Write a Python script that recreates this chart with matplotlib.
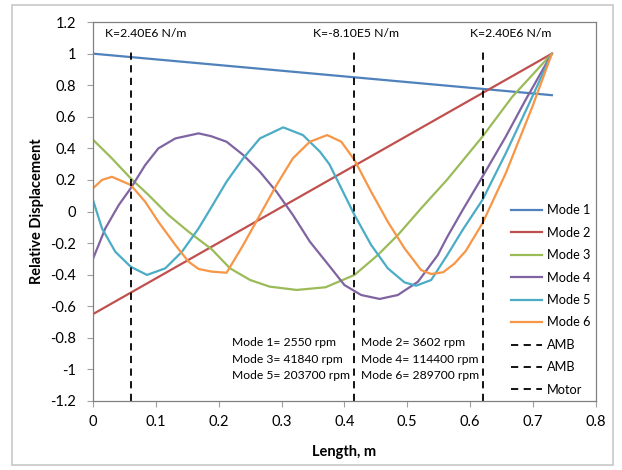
import numpy as np
import matplotlib
matplotlib.use('Agg')
import matplotlib.pyplot as plt
from matplotlib.patches import Rectangle

plt.rcParams['font.family'] = ['Lato', 'DejaVu Sans']

# mode shapes (length in m, relative displacement)
x1 = [0.0, 0.73]
y1 = [1.0, 0.737]

x2 = [0.0, 0.73]
y2 = [-0.65, 1.0]

x3 = [0.0, 0.03, 0.06, 0.0885, 0.12, 0.152, 0.189, 0.218, 0.25, 0.281, 0.324,
      0.37, 0.416, 0.453, 0.485, 0.522, 0.563, 0.6195, 0.667, 0.73]
y3 = [0.455, 0.337, 0.21, 0.104, -0.022, -0.128, -0.24, -0.36, -0.434, -0.476,
      -0.497, -0.48, -0.402, -0.276, -0.149, 0.02, 0.2, 0.474, 0.727, 1.0]

x4 = [0.0, 0.0196, 0.041, 0.06, 0.083, 0.104, 0.131, 0.168, 0.188, 0.2125,
      0.239, 0.2655, 0.292, 0.318, 0.345, 0.375, 0.4, 0.4266, 0.456, 0.485,
      0.517, 0.5485, 0.563, 0.588, 0.6195, 0.6566, 0.688, 0.73]
y4 = [-0.3, -0.107, 0.041, 0.147, 0.294, 0.4, 0.463, 0.495, 0.477, 0.442,
      0.358, 0.252, 0.125, -0.022, -0.191, -0.34, -0.466, -0.529, -0.554,
      -0.529, -0.445, -0.276, -0.165, 0.009, 0.22, 0.474, 0.706, 1.0]

x5 = [0.0, 0.0143, 0.0355, 0.06, 0.0859, 0.115, 0.1415, 0.168, 0.188, 0.2125,
      0.239, 0.2655, 0.3026, 0.334, 0.361, 0.376, 0.395, 0.416, 0.4425, 0.469,
      0.4955, 0.514, 0.538, 0.563, 0.588, 0.6195, 0.6566, 0.694, 0.73]
y5 = [0.073, -0.107, -0.255, -0.35, -0.402, -0.36, -0.255, -0.107, 0.025,
      0.189, 0.337, 0.463, 0.533, 0.484, 0.379, 0.3, 0.147, -0.022, -0.212,
      -0.36, -0.449, -0.47, -0.434, -0.28, -0.117, 0.073, 0.368, 0.685, 1.0]

x6 = [0.0, 0.0143, 0.03, 0.06, 0.083, 0.104, 0.131, 0.152, 0.168, 0.189,
      0.2125, 0.239, 0.2655, 0.292, 0.318, 0.345, 0.3725, 0.395, 0.416, 0.4425,
      0.469, 0.4955, 0.522, 0.538, 0.557, 0.575, 0.593, 0.6195, 0.6566, 0.699,
      0.73]
y6 = [0.147, 0.2, 0.22, 0.168, 0.062, -0.065, -0.212, -0.318, -0.364, -0.381,
      -0.388, -0.212, -0.022, 0.168, 0.337, 0.442, 0.484, 0.442, 0.326, 0.125,
      -0.065, -0.233, -0.371, -0.396, -0.385, -0.33, -0.25, -0.075, 0.242,
      0.664, 1.0]

bearing_x = [0.06, 0.415, 0.62]
bearing_names = ['AMB', 'AMB', 'Motor']
k_labels = ['K=2.40E6 N/m', 'K=-8.10E5 N/m', 'K=2.40E6 N/m']
k_label_x = [0.019, 0.35, 0.6]

freq_left = ['Mode 1= 2550 rpm', 'Mode 3= 41840 rpm', 'Mode 5= 203700 rpm']
freq_right = ['Mode 2= 3602 rpm', 'Mode 4= 114400 rpm', 'Mode 6= 289700 rpm']

colors = ['#4F81BD', '#C0504D', '#9BBB59', '#8064A2', '#4BACC6', '#F79646']

fig = plt.figure(figsize=(6.22, 4.70), dpi=100)
fig.patches.append(Rectangle((12 / 622, 5 / 470), 601 / 622, 460 / 470,
                             transform=fig.transFigure, fill=False,
                             edgecolor='#C8C8C8', linewidth=1.2))
ax = fig.add_axes([0.1495, 0.147, 0.8085, 0.806])

modes = [(x1, y1), (x2, y2), (x3, y3), (x4, y4), (x5, y5), (x6, y6)]
for i, (xs, ys) in enumerate(modes):
    ax.plot(xs, ys, color=colors[i], lw=1.6, label='Mode %d' % (i + 1),
            solid_joinstyle='round')

for bx, name in zip(bearing_x, bearing_names):
    ax.plot([bx, bx], [-1.2, 1.035], color='black', lw=1.3,
            linestyle=(0, (4, 3)), label=name)

for lx, txt in zip(k_label_x, k_labels):
    ax.text(lx, 1.13, txt, fontsize=8.8, va='center', ha='left')

rows_y = [-0.833, -0.94, -1.04]
for ry, tl, tr in zip(rows_y, freq_left, freq_right):
    ax.text(0.221, ry, tl, fontsize=8.7, va='center', ha='left')
    ax.text(0.427, ry, tr, fontsize=8.7, va='center', ha='left')

ax.set_xlim(0, 0.8)
ax.set_ylim(-1.2, 1.2)
ax.set_xticks(np.arange(0, 0.81, 0.1))
ax.set_xticklabels(['0', '0.1', '0.2', '0.3', '0.4', '0.5', '0.6', '0.7', '0.8'])
ax.set_yticks(np.arange(-1.2, 1.21, 0.2))
ax.set_yticklabels(['-1.2', '-1', '-0.8', '-0.6', '-0.4', '-0.2', '0', '0.2',
                    '0.4', '0.6', '0.8', '1', '1.2'])
ax.tick_params(direction='out', length=4, color='#A0A0A0', labelsize=10.5)
ax.tick_params(axis='x', pad=6)
ax.tick_params(axis='y', pad=8)
for s in ax.spines.values():
    s.set_color('#808080')
    s.set_linewidth(0.9)

ax.set_xlabel('Length, m', fontsize=10.5, fontweight='bold', labelpad=12)
ax.set_ylabel('Relative Displacement', fontsize=10.5, fontweight='bold', labelpad=5)

leg = ax.legend(loc='upper left', bbox_to_anchor=(0.822, 0.533), frameon=False,
                fontsize=9.2, handlelength=2.4, handletextpad=0.35,
                labelspacing=0.82, borderaxespad=0)

fig.savefig('out.png', dpi=100)
